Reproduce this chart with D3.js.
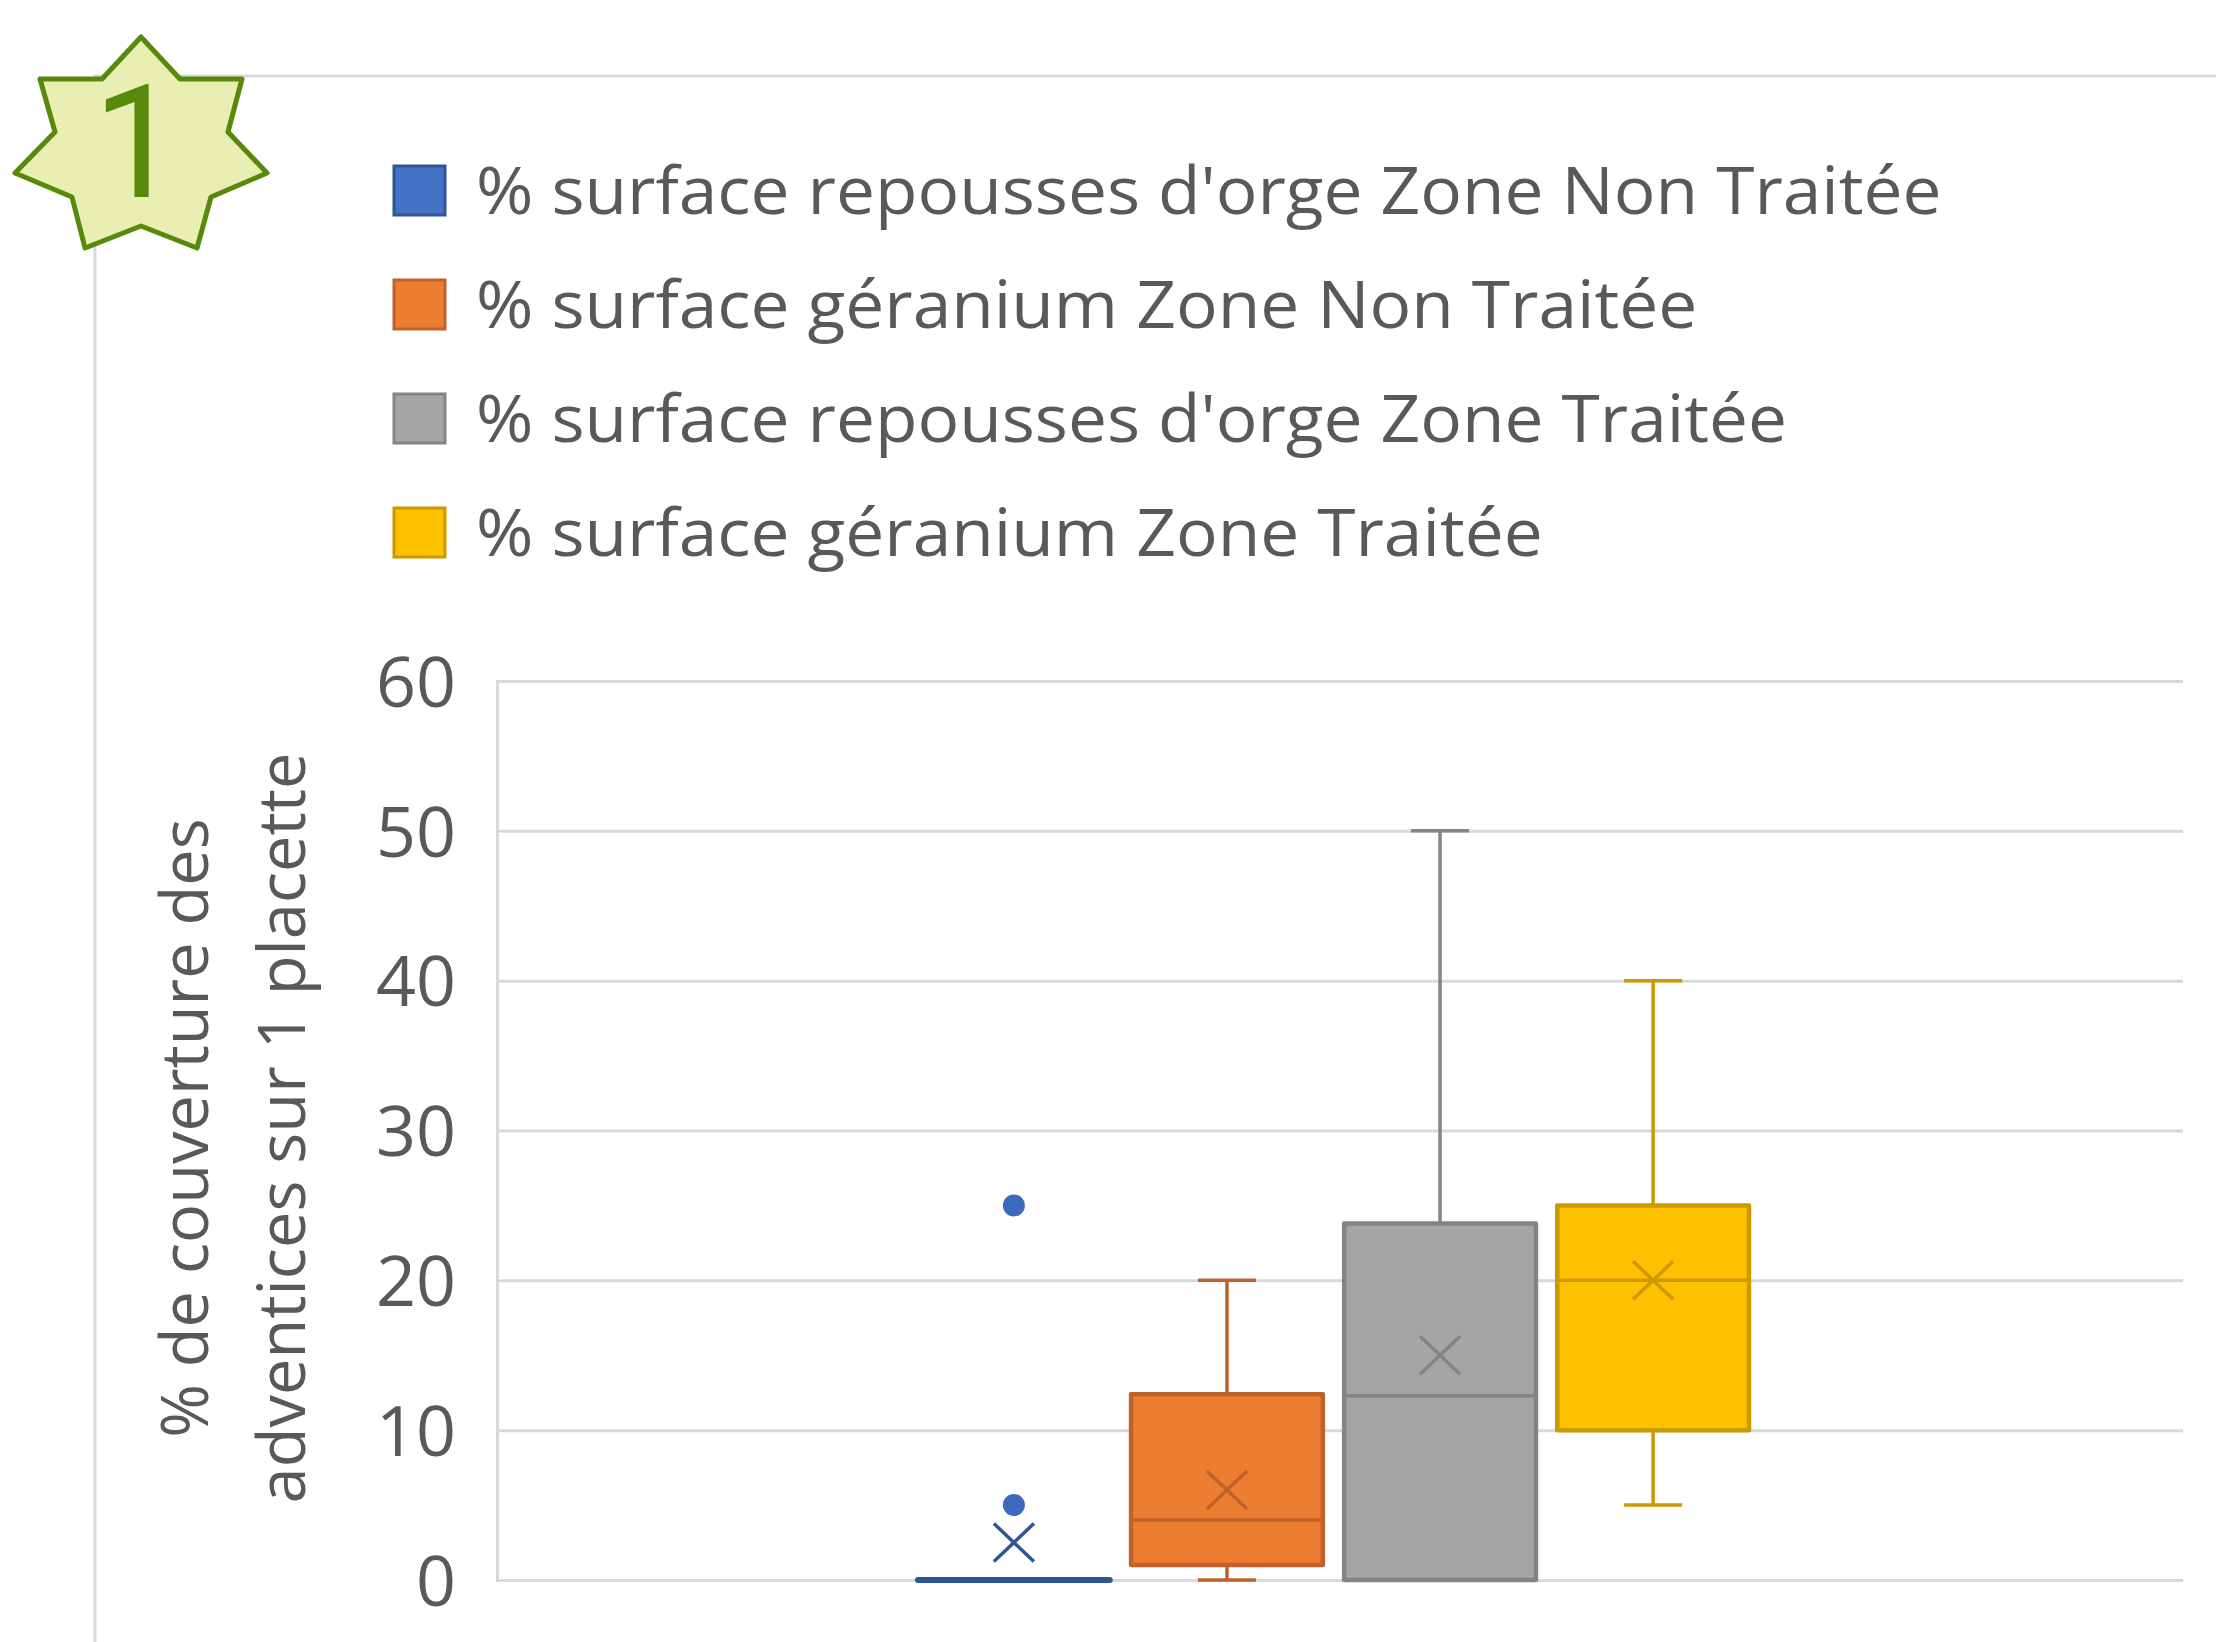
<!DOCTYPE html>
<html>
<head>
<meta charset="utf-8">
<script src="https://cdn.jsdelivr.net/npm/d3@7"></script>
<style>
	html, body { margin: 0; padding: 0; background: #fff; }
	svg { display: block; filter: blur(0.6px); }
	text { font-family: "Open Sans", sans-serif; fill: #595959; }
</style>
</head>
<body>
<script>
const series = [
	"% surface repousses d'orge Zone Non Traitée",
	"% surface géranium Zone Non Traitée",
	"% surface repousses d'orge Zone Traitée",
	"% surface géranium Zone Traitée"
];
const mins = [0, 0, 0, 5];
const q1s = [0, 1, 0, 10];
const medians = [0, 4, 12.3, 20];
const q3s = [0, 12.4, 23.8, 25];
const maxs = [0, 20, 50, 40];
const means = [2.5, 6, 15, 20];
const outliers = [[25, 5], [], [], []];
const yTicks = [0, 10, 20, 30, 40, 50, 60];
const fills = ['#4472c4', '#ed7d31', '#a5a5a5', '#ffc000'];
const strokes = ['#2f5597', '#bf6229', '#848484', '#cc9a00'];
const yTitle = ['% de couverture des', 'adventices sur 1 placette'];

const width = 2216, height = 1642;
const plot = {x1: 497, x2: 2183, y1: 681, y2: 1580};

const svg = d3.select('body').append('svg')
	.attr('width', width)
	.attr('height', height);

// outer chart frame, partly hidden by the badge
svg.append('path')
	.attr('d', `M${width},76H95V${height}`)
	.attr('fill', 'none')
	.attr('stroke', '#d9d9d9')
	.attr('stroke-width', 3);

// legend
const legendY = d3.scalePoint().domain(series).range([191, 533]);
const gLegend = svg.selectAll('.g_legend')
	.data(series).enter()
	.append('g')
	.attr('class', 'g_legend')
	.attr('transform', d => `translate(393,${legendY(d)})`);

gLegend.append('rect')
	.attr('x', 1)
	.attr('y', -25)
	.attr('width', 51)
	.attr('height', 49)
	.attr('fill', (d, i) => fills[i])
	.attr('stroke', (d, i) => strokes[i])
	.attr('stroke-width', 3);

// the source text is a bit wider than Open Sans, so stretch it
gLegend.append('text')
	.attr('transform', 'translate(83,23) scale(1.052,1)')
	.attr('font-size', 66)
	.text(d => d);

// scales
const y = d3.scaleLinear().domain([0, 60]).range([plot.y2, plot.y1]);
const x = d3.scaleBand().domain(series).range([918, 1749]).paddingInner(0.1);

// axis
const gAxis = svg.append('g')
	.attr('class', 'g_axis')
	.attr('transform', `translate(${plot.x1},0)`)
	.call(d3.axisLeft(y).tickValues(yTicks).tickSize(-(plot.x2 - plot.x1)).tickPadding(41));

gAxis.selectAll('.tick line')
	.attr('stroke', '#d9d9d9')
	.attr('stroke-width', 3);
gAxis.select('.domain')
	.attr('stroke', '#d9d9d9')
	.attr('stroke-width', 3);
gAxis.selectAll('.tick text')
	.attr('font-size', 70)
	.attr('font-family', '"Open Sans", sans-serif')
	.attr('fill', '#595959')
	.attr('dy', '0.36em');

// y title, two lines
svg.selectAll('.y_title')
	.data(yTitle).enter()
	.append('text')
	.attr('class', 'y_title')
	.attr('text-anchor', 'middle')
	.attr('font-size', 65)
	.attr('transform', (d, i) => `translate(${208 + i * 97},1128) rotate(-90)`)
	.text(d => d);

// boxes
const gBoxes = svg.selectAll('.g_box')
	.data(series).enter()
	.append('g')
	.attr('class', 'g_box');

gBoxes.each(function(s, i) {
	const gBox = d3.select(this),
		x1 = x(s),
		bw = x.bandwidth(),
		cx = x1 + bw / 2,
		capW = 58,
		stroke = strokes[i];

	// whiskers
	[[q3s[i], maxs[i]], [q1s[i], mins[i]]].forEach(w => {
		gBox.append('line')
			.attr('x1', cx).attr('x2', cx)
			.attr('y1', y(w[0])).attr('y2', y(w[1]))
			.attr('stroke', stroke)
			.attr('stroke-width', 3.5);
		gBox.append('line')
			.attr('x1', cx - capW / 2).attr('x2', cx + capW / 2)
			.attr('y1', y(w[1])).attr('y2', y(w[1]))
			.attr('stroke', stroke)
			.attr('stroke-width', 3.5);
	});

	// a path and not a rect: the blue box has no height and must still show
	gBox.append('path')
		.attr('d', `M${x1},${y(q3s[i])}H${x1 + bw}V${y(q1s[i])}H${x1}Z`)
		.attr('fill', fills[i])
		.attr('stroke', stroke)
		.attr('stroke-width', q3s[i] === q1s[i] ? 6 : 4.5)
		.attr('stroke-linejoin', 'round');

	gBox.append('line')
		.attr('x1', x1).attr('x2', x1 + bw)
		.attr('y1', y(medians[i])).attr('y2', y(medians[i]))
		.attr('stroke', stroke)
		.attr('stroke-width', 3.5);

	// mean marker
	const my = y(means[i]), rx = 20, ry = 19;
	gBox.append('path')
		.attr('d', `M${cx - rx},${my - ry}L${cx + rx},${my + ry}M${cx - rx},${my + ry}L${cx + rx},${my - ry}`)
		.attr('fill', 'none')
		.attr('stroke', stroke)
		.attr('stroke-width', 3.5);

	gBox.selectAll('.outlier')
		.data(outliers[i]).enter()
		.append('circle')
		.attr('class', 'outlier')
		.attr('cx', cx)
		.attr('cy', d => y(d))
		.attr('r', 11)
		.attr('fill', '#3a69bd');
});

// numbered badge in the corner
const badge = [[141,37],[180,79],[242,79],[228,132],[267,173],[211,197],[197,248],[141,226],[85,248],[72,197],[15,173],[55,132],[40,79],[102,79]];
svg.append('polygon')
	.attr('points', badge.join(' '))
	.attr('fill', '#e9efb3')
	.attr('stroke', '#578a0a')
	.attr('stroke-width', 5)
	.attr('stroke-linejoin', 'round');

svg.append('text')
	.attr('x', 181)
	.attr('y', 197)
	.attr('text-anchor', 'end')
	.attr('font-size', 157)
	.style('font-family', 'Roboto, sans-serif')
	.style('fill', '#578a0a')
	.text('1');
</script>
</body>
</html>
